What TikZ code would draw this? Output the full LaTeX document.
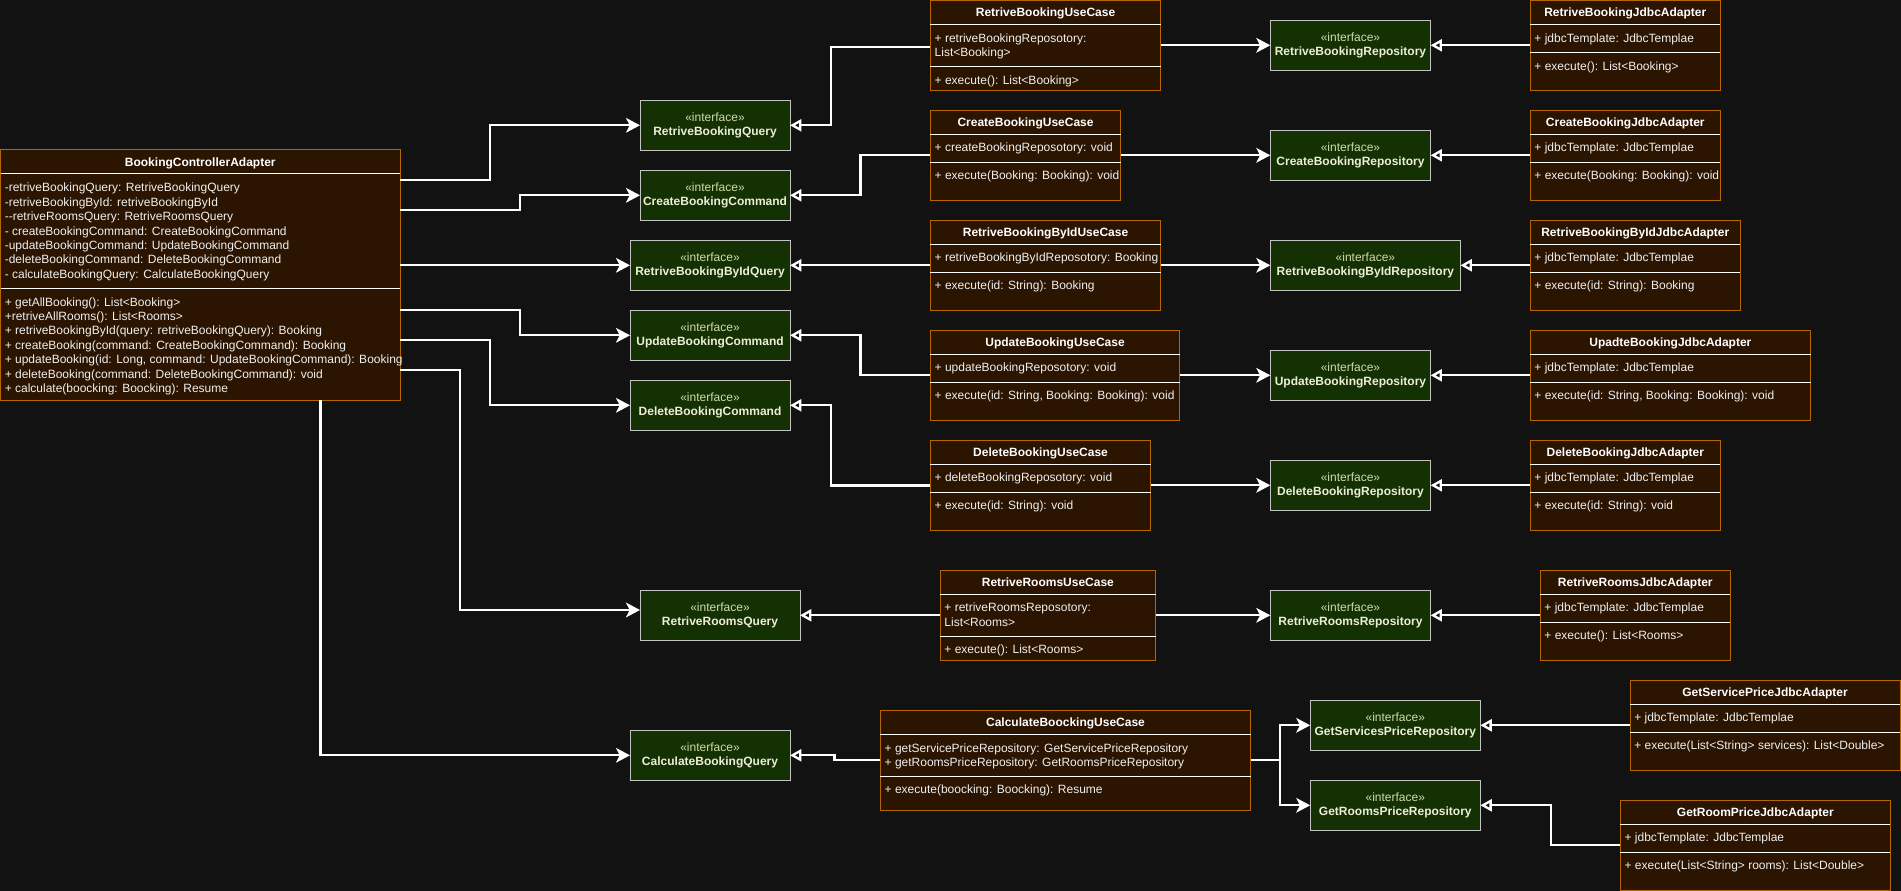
\documentclass[tikz,border=0pt]{standalone}
\usepackage{fontspec}
\setmainfont{Liberation Sans}
\usetikzlibrary{arrows.meta,calc}
\newlength{\pxu}\setlength{\pxu}{0.75pt}
\definecolor{bgc}{HTML}{121212}
\definecolor{clsfill}{HTML}{2B1400}
\definecolor{clsdraw}{HTML}{B46504}
\definecolor{iffill}{HTML}{143103}
\definecolor{ifdraw}{HTML}{C4C4C4}
\definecolor{stereo}{HTML}{D0DCA8}
\definecolor{ifname}{HTML}{EDEDDA}
\definecolor{txtc}{HTML}{F0F0F0}
\tikzset{
 cls/.style={draw=clsdraw, fill=clsfill, line width=0.75pt, anchor=north west, inner sep=0pt, outer sep=0pt},
 iface/.style={draw=ifdraw, fill=iffill, line width=0.75pt, anchor=north west, inner sep=0pt, outer sep=0pt, minimum height=50\pxu, align=center, font=\fontsize{9}{10.8}\selectfont, text=ifname},
 sep/.style={draw=white, line width=0.75pt},
 ttl/.style={font=\fontsize{9}{10.8}\selectfont\bfseries, text=white, inner sep=0pt, text height=8.15pt, text depth=1.91pt},
 txt/.style={font=\fontsize{9}{10.8}\selectfont, text=txtc, anchor=west, inner sep=0pt, text height=8.15pt, text depth=1.91pt},
 arr/.style={draw=white, line width=1.75pt, -{Stealth[length=10.5pt,width=11pt,inset=2.8pt]}},
 real/.style={draw=white, line width=1.75pt, -{Triangle[open,length=8.5pt,width=9pt]}},
}
\newcommand\umlbox[7]{%
 \node[cls, minimum width=#4\pxu, minimum height=#5\pxu] (#1) at (#2,#3) {};
 \draw[sep] ($(#1.north west)+(0,24)$) -- ($(#1.north east)+(0,24)$);
 \draw[sep] ($(#1.north west)+(0,#7)$) -- ($(#1.north east)+(0,#7)$);
 \node[ttl] (#1t) at ($(#1.north)+(0,12)$) {#6};}
\newcommand\umlline[4]{\node[txt] (#1#2) at ($(#1.north west)+(4,#3)$) {#4};}
\newcommand\iface[5]{\node[iface, minimum width=#4\pxu] (#1) at (#2,#3) {{\color{stereo}«interface»}\\\textbf{#5}};}
\begin{document}
\begin{tikzpicture}[x=0.75pt,y=-0.75pt]
\fill[bgc] (0,0) rectangle (1901,891);
\useasboundingbox (0,0) rectangle (1901,891);

% controller
\umlbox{ctrl}{0.5}{150}{399.5}{250}{BookingControllerAdapter}{138}
\umlline{ctrl}{a}{37.7}{-retriveBookingQuery: RetriveBookingQuery}
\umlline{ctrl}{b}{52.1}{-retriveBookingById: retriveBookingById}
\umlline{ctrl}{c}{66.5}{-{}-retriveRoomsQuery: RetriveRoomsQuery}
\umlline{ctrl}{d}{80.9}{- createBookingCommand: CreateBookingCommand}
\umlline{ctrl}{e}{95.3}{-updateBookingCommand: UpdateBookingCommand}
\umlline{ctrl}{f}{109.7}{-deleteBookingCommand: DeleteBookingCommand}
\umlline{ctrl}{g}{124.1}{- calculateBookingQuery: CalculateBookingQuery}
\umlline{ctrl}{h}{152}{+ getAllBooking(): List<Booking>}
\umlline{ctrl}{i}{166.4}{+retriveAllRooms(): List<Rooms>}
\umlline{ctrl}{j}{180.8}{+ retriveBookingById(query: retriveBookingQuery): Booking}
\umlline{ctrl}{k}{195.2}{+ createBooking(command: CreateBookingCommand): Booking}
\umlline{ctrl}{l}{209.6}{+ updateBooking(id: Long, command: UpdateBookingCommand): Booking}
\umlline{ctrl}{m}{224}{+ deleteBooking(command: DeleteBookingCommand): void}
\umlline{ctrl}{n}{238.4}{+ calculate(boocking: Boocking): Resume}

% query / command interfaces
\iface{q1}{640}{100.3}{150}{RetriveBookingQuery}
\iface{q2}{640}{170.3}{150}{CreateBookingCommand}
\iface{q3}{630}{240.3}{160}{RetriveBookingByIdQuery}
\iface{q4}{630}{310.3}{160}{UpdateBookingCommand}
\iface{q5}{630}{380.3}{160}{DeleteBookingCommand}
\iface{q6}{640}{590.3}{160}{RetriveRoomsQuery}
\iface{q7}{630}{730.3}{160}{CalculateBookingQuery}

% use cases
\umlbox{u1}{930.4}{0.5}{230.3}{89.8}{RetriveBookingUseCase}{66}
\umlline{u1}{a}{37.4}{+ retriveBookingReposotory:}
\umlline{u1}{b}{52}{List<Booking>}
\umlline{u1}{m}{79.4}{+ execute(): List<Booking>}
\umlbox{u2}{930.4}{110.3}{190.3}{90}{CreateBookingUseCase}{52}
\umlline{u2}{a}{37.4}{+ createBookingReposotory: void}
\umlline{u2}{m}{65.4}{+ execute(Booking: Booking): void}
\umlbox{u3}{930.4}{220.3}{230.3}{90}{RetriveBookingByIdUseCase}{52}
\umlline{u3}{a}{37.4}{+ retriveBookingByIdReposotory: Booking}
\umlline{u3}{m}{65.4}{+ execute(id: String): Booking}
\umlbox{u4}{930.4}{330.3}{249.3}{90}{UpdateBookingUseCase}{52}
\umlline{u4}{a}{37.4}{+ updateBookingReposotory: void}
\umlline{u4}{m}{65.4}{+ execute(id: String, Booking: Booking): void}
\umlbox{u5}{930.4}{440.3}{220.3}{90}{DeleteBookingUseCase}{52}
\umlline{u5}{a}{37.4}{+ deleteBookingReposotory: void}
\umlline{u5}{m}{65.4}{+ execute(id: String): void}
\umlbox{u6}{940.2}{570.3}{215.4}{90}{RetriveRoomsUseCase}{66}
\umlline{u6}{a}{37.4}{+ retriveRoomsReposotory:}
\umlline{u6}{b}{52}{List<Rooms>}
\umlline{u6}{m}{79.4}{+ execute(): List<Rooms>}
\umlbox{u7}{880.4}{710.3}{370.2}{100}{CalculateBoockingUseCase}{66}
\umlline{u7}{a}{37.7}{+ getServicePriceRepository: GetServicePriceRepository}
\umlline{u7}{b}{52}{+ getRoomsPriceRepository: GetRoomsPriceRepository}
\umlline{u7}{m}{79.4}{+ execute(boocking: Boocking): Resume}

% repositories
\iface{r1}{1270.3}{20.3}{160.3}{RetriveBookingRepository}
\iface{r2}{1270.3}{130.3}{160.3}{CreateBookingRepository}
\iface{r3}{1270.3}{240.3}{190.2}{RetriveBookingByIdRepository}
\iface{r4}{1270.3}{350.3}{160.3}{UpdateBookingRepository}
\iface{r5}{1270.3}{460.3}{160.3}{DeleteBookingRepository}
\iface{r6}{1270.3}{590.3}{160.3}{RetriveRoomsRepository}
\iface{r7}{1310.2}{700.3}{170.2}{GetServicesPriceRepository}
\iface{r8}{1310.2}{780.3}{170.2}{GetRoomsPriceRepository}

% jdbc adapters
\umlbox{a1}{1530.2}{0.5}{190.2}{89.8}{RetriveBookingJdbcAdapter}{52}
\umlline{a1}{a}{37.4}{+ jdbcTemplate: JdbcTemplae}
\umlline{a1}{m}{65.4}{+ execute(): List<Booking>}
\umlbox{a2}{1530.2}{110.3}{190.2}{90}{CreateBookingJdbcAdapter}{52}
\umlline{a2}{a}{37.4}{+ jdbcTemplate: JdbcTemplae}
\umlline{a2}{m}{65.4}{+ execute(Booking: Booking): void}
\umlbox{a3}{1530.2}{220.3}{210.1}{90}{RetriveBookingByIdJdbcAdapter}{52}
\umlline{a3}{a}{37.4}{+ jdbcTemplate: JdbcTemplae}
\umlline{a3}{m}{65.4}{+ execute(id: String): Booking}
\umlbox{a4}{1530.2}{330.3}{280.3}{90}{UpadteBookingJdbcAdapter}{52}
\umlline{a4}{a}{37.4}{+ jdbcTemplate: JdbcTemplae}
\umlline{a4}{m}{65.4}{+ execute(id: String, Booking: Booking): void}
\umlbox{a5}{1530.2}{440.3}{190.2}{90}{DeleteBookingJdbcAdapter}{52}
\umlline{a5}{a}{37.4}{+ jdbcTemplate: JdbcTemplae}
\umlline{a5}{m}{65.4}{+ execute(id: String): void}
\umlbox{a6}{1540.2}{570.3}{190.2}{90}{RetriveRoomsJdbcAdapter}{52}
\umlline{a6}{a}{37.4}{+ jdbcTemplate: JdbcTemplae}
\umlline{a6}{m}{65.4}{+ execute(): List<Rooms>}
\umlbox{a7}{1630}{680.3}{270}{90}{GetServicePriceJdbcAdapter}{52}
\umlline{a7}{a}{37.4}{+ jdbcTemplate: JdbcTemplae}
\umlline{a7}{m}{65.4}{+ execute(List<String> services): List<Double>}
\umlbox{a8}{1620.3}{800.3}{270}{90}{GetRoomPriceJdbcAdapter}{52}
\umlline{a8}{a}{37.4}{+ jdbcTemplate: JdbcTemplae}
\umlline{a8}{m}{65.4}{+ execute(List<String> rooms): List<Double>}

% controller -> interfaces
\draw[arr] (ctrl.east |- 0,180) -- (490,180) |- (q1.west);
\draw[arr] (ctrl.east |- 0,210) -- (520,210) |- (q2.west);
\draw[arr] (ctrl.east |- q3.west) -- (q3.west);
\draw[arr] (ctrl.east |- 0,310) -- (520,310) |- (q4.west);
\draw[arr] (ctrl.east |- 0,340) -- (490,340) |- (q5.west);
\draw[arr] (ctrl.east |- 0,370) -- (460,370) -- (460,610) -- (q6.west |- 0,610);
\draw[arr] (ctrl.south -| 320.4,0) |- (q7.west);

% use cases -> interfaces (realization)
\draw[real] (u1.west |- 0,46.7) -- (830.7,46.7) |- (q1.east);
\draw[real] (u2.west |- 0,155.3) -- (860.4,155.3) |- (q2.east);
\draw[real] (u3.west |- q3.east) -- (q3.east);
\draw[real] (u4.west |- 0,375) -- (860.4,375) |- (q4.east);
\draw[real] (u5.west |- 0,485.5) -- (830.7,485.5) |- (q5.east);
\draw[real] (u6.west |- q6.east) -- (q6.east);
\draw[real] (u7.west |- 0,760.3) -- (834.6,760.3) |- (q7.east);

% use cases -> repositories
\draw[arr] (u1.east |- r1.west) -- (r1.west);
\draw[arr] (u2.east |- r2.west) -- (r2.west);
\draw[arr] (u3.east |- r3.west) -- (r3.west);
\draw[arr] (u4.east |- r4.west) -- (r4.west);
\draw[arr] (u5.east |- r5.west) -- (r5.west);
\draw[arr] (u6.east |- r6.west) -- (r6.west);
\coordinate (fork) at (1280,760.3);
\draw[arr] (u7.east |- fork) -- (fork) |- (r7.west);
\draw[arr] (fork) |- (r8.west);

% adapters -> repositories (realization)
\draw[real] (a1.west |- r1.east) -- (r1.east);
\draw[real] (a2.west |- r2.east) -- (r2.east);
\draw[real] (a3.west |- r3.east) -- (r3.east);
\draw[real] (a4.west |- r4.east) -- (r4.east);
\draw[real] (a5.west |- r5.east) -- (r5.east);
\draw[real] (a6.west |- r6.east) -- (r6.east);
\draw[real] (a7.west |- r7.east) -- (r7.east);
\draw[real] (a8.west |- 0,844.7) -- (1551,844.7) |- (r8.east);
\end{tikzpicture}
\end{document}
